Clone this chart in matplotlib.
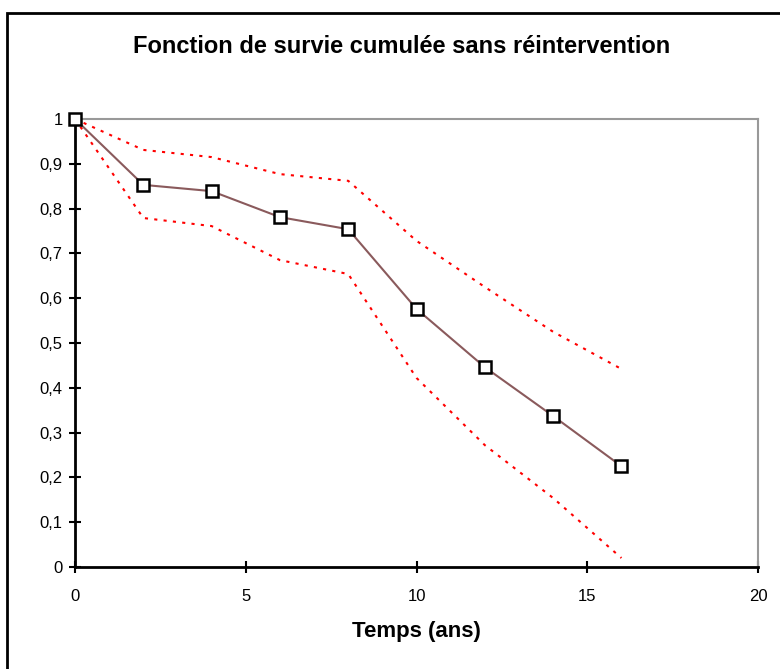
import matplotlib.pyplot as plt
from matplotlib.patches import Rectangle
from matplotlib.ticker import FuncFormatter

plt.rcParams["font.family"] = ["Liberation Sans", "DejaVu Sans"]

temps = [0, 2, 4, 6, 8, 10, 12, 14, 16]
survie = [1.0, 0.853, 0.839, 0.781, 0.754, 0.576, 0.446, 0.337, 0.225]
borne_sup = [1.0, 0.931, 0.915, 0.877, 0.862, 0.728, 0.625, 0.525, 0.442]
borne_inf = [1.0, 0.779, 0.761, 0.685, 0.654, 0.422, 0.272, 0.154, 0.020]

fig = plt.figure(figsize=(7.8, 6.69), dpi=100)
ax = fig.add_axes([0.0962, 0.1525, 0.8756, 0.6696])

# cadre extérieur (coupé à droite et en bas comme dans l'original)
fig.patches.append(Rectangle((7 / 780, -0.05), 1.0, 1 - 13 / 669 + 0.05,
                             transform=fig.transFigure, fill=False,
                             edgecolor="black", linewidth=2))

ax.plot(temps, borne_sup, color="red", linestyle=(0, (1.5, 3)), linewidth=1.5)
ax.plot(temps, borne_inf, color="red", linestyle=(0, (1.5, 3)), linewidth=1.5)
ax.plot(temps, survie, color="#8a5a5c", linewidth=1.5, marker="s",
        markersize=8.5, markerfacecolor="white", markeredgecolor="black",
        markeredgewidth=1.8, zorder=3, clip_on=False)

ax.set_xlim(0, 20)
ax.set_ylim(0, 1)
ax.set_xticks([0, 5, 10, 15, 20])
ax.set_yticks([i / 10 for i in range(11)])
ax.yaxis.set_major_formatter(FuncFormatter(lambda v, p: f"{v:g}".replace(".", ",")))
ax.tick_params(direction="inout", length=8, width=1.5, labelsize=12)
ax.tick_params(axis="x", pad=12)
ax.tick_params(axis="y", pad=5)

for side in ("left", "bottom"):
    ax.spines[side].set_linewidth(2)
    ax.spines[side].set_color("black")
for side in ("top", "right"):
    ax.spines[side].set_linewidth(1.5)
    ax.spines[side].set_color("#999999")

ax.set_xlabel("Temps (ans)", fontsize=16, fontweight="bold", labelpad=12)
fig.text(0.515, 0.93, "Fonction de survie cumulée sans réintervention",
         ha="center", va="center", fontsize=17, fontweight="bold")

fig.savefig("out.png", dpi=100)
